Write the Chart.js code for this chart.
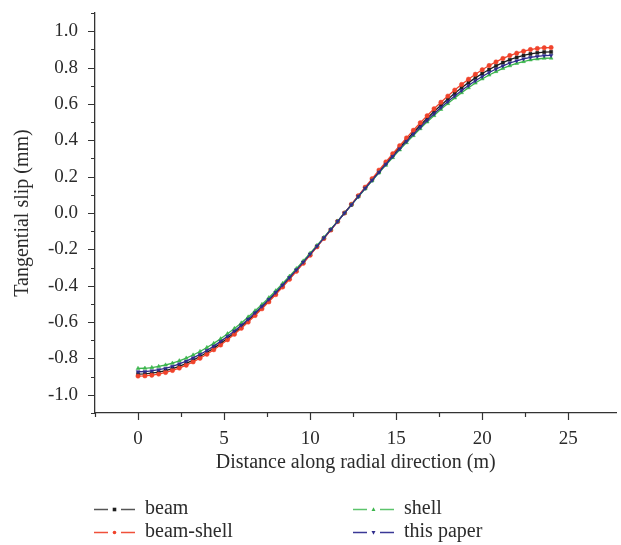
<!DOCTYPE html>
<html>
<head>
<meta charset="utf-8">
<script src="https://cdn.jsdelivr.net/npm/chart.js@4/dist/chart.umd.min.js"></script>
<style>
  body { margin: 0; background: #fff; }
  #wrap { width: 621px; height: 545px; }
</style>
</head>
<body>
<div id="wrap"><canvas id="slipChart" width="621" height="545"></canvas></div>
<script>
// Datos
const distance = [0,0.4,0.8,1.2,1.6,2,2.4,2.8,3.2,3.6,4,4.4,4.8,5.2,5.6,6,6.4,6.8,7.2,7.6,8,8.4,8.8,9.2,9.6,10,10.4,10.8,11.2,11.6,12,12.4,12.8,13.2,13.6,14,14.4,14.8,15.2,15.6,16,16.4,16.8,17.2,17.6,18,18.4,18.8,19.2,19.6,20,20.4,20.8,21.2,21.6,22,22.4,22.8,23.2,23.6,24];

const beam = [-0.886,-0.885,-0.881,-0.875,-0.867,-0.856,-0.843,-0.827,-0.809,-0.789,-0.767,-0.743,-0.717,-0.689,-0.658,-0.626,-0.593,-0.558,-0.521,-0.483,-0.443,-0.402,-0.360,-0.318,-0.274,-0.229,-0.184,-0.139,-0.093,-0.046,0,
  0.046,0.093,0.139,0.184,0.229,0.274,0.318,0.360,0.402,0.443,0.483,0.521,0.558,0.593,0.626,0.658,0.689,0.717,0.743,0.767,0.789,0.809,0.827,0.843,0.856,0.867,0.875,0.881,0.885,0.886];

const beamShell = [-0.897,-0.896,-0.892,-0.886,-0.877,-0.866,-0.853,-0.837,-0.819,-0.799,-0.777,-0.752,-0.726,-0.697,-0.667,-0.634,-0.600,-0.564,-0.527,-0.489,-0.449,-0.407,-0.365,-0.321,-0.277,-0.232,-0.186,-0.140,-0.094,-0.047,0,
  0.048,0.095,0.142,0.189,0.236,0.281,0.326,0.370,0.413,0.455,0.496,0.535,0.573,0.609,0.643,0.676,0.707,0.736,0.763,0.788,0.811,0.831,0.850,0.866,0.879,0.890,0.899,0.905,0.909,0.910];

const shell = [-0.855,-0.854,-0.850,-0.844,-0.836,-0.826,-0.813,-0.798,-0.781,-0.762,-0.740,-0.717,-0.692,-0.664,-0.635,-0.605,-0.572,-0.538,-0.503,-0.466,-0.428,-0.388,-0.348,-0.306,-0.264,-0.221,-0.178,-0.134,-0.089,-0.045,0,
  0.045,0.089,0.133,0.177,0.221,0.263,0.305,0.347,0.387,0.426,0.464,0.501,0.536,0.570,0.602,0.633,0.662,0.689,0.715,0.738,0.759,0.778,0.795,0.810,0.823,0.833,0.842,0.847,0.851,0.852];

const thisPaper = [-0.873,-0.872,-0.868,-0.862,-0.854,-0.843,-0.830,-0.815,-0.797,-0.778,-0.756,-0.732,-0.706,-0.678,-0.649,-0.617,-0.584,-0.549,-0.513,-0.475,-0.437,-0.396,-0.355,-0.313,-0.270,-0.226,-0.182,-0.137,-0.091,-0.046,0,
  0.045,0.091,0.136,0.180,0.224,0.268,0.311,0.353,0.394,0.434,0.472,0.510,0.546,0.580,0.613,0.644,0.674,0.701,0.727,0.751,0.773,0.792,0.809,0.825,0.837,0.848,0.856,0.862,0.866,0.867];

const seriesNames = ['beam', 'beam-shell', 'shell', 'this paper'];
const xMajorTicks = [0, 5, 10, 15, 20, 25];
const yMajorTicks = [-1.0, -0.8, -0.6, -0.4, -0.2, 0.0, 0.2, 0.4, 0.6, 0.8, 1.0];

const lineColors = ['#1e1e1e', '#f0432b', '#3bb54c', '#2f2c8c'];
const legendLineColors = ['#555555', '#f0503a', '#5cc46c', '#3a3896'];
const markerStyles = ['rect', 'circle', 'triangle', 'triangle'];
const markerRotation = [0, 0, 0, 180];

const serif = '"Liberation Serif", "DejaVu Serif", serif';
const inkColor = '#2b2b2b';

function isMultiple(v, step) {
    const k = Math.round(v / step);
    return Math.abs(v - k * step) < 1e-6;
}

// sin márgenes extra de las etiquetas
function noScalePadding(scale) {
    scale.paddingTop = 0;
    scale.paddingBottom = 0;
    scale.paddingLeft = 0;
    scale.paddingRight = 0;
}

// Marcas de los ejes (mayores y menores)
const tickMarks = {
    id: 'tickMarks',
    afterDraw(chart) {
        const ctx = chart.ctx;
        const xs = chart.scales.x;
        const ys = chart.scales.y;
        ctx.save();
        ctx.strokeStyle = '#333';
        ctx.lineWidth = 1.2;
        ctx.beginPath();
        xs.ticks.forEach(t => {
            if (!isMultiple(t.value, 2.5)) return;
            const major = xMajorTicks.some(m => Math.abs(m - t.value) < 1e-6);
            const px = Math.round(xs.getPixelForValue(t.value)) + 0.5;
            ctx.moveTo(px, xs.top);
            ctx.lineTo(px, xs.top + (major ? 7 : 4));
        });
        ys.ticks.forEach(t => {
            if (!isMultiple(t.value, 0.1)) return;
            const major = yMajorTicks.some(m => Math.abs(m - t.value) < 1e-6);
            const py = Math.round(ys.getPixelForValue(t.value)) + 0.5;
            ctx.moveTo(ys.right, py);
            ctx.lineTo(ys.right - (major ? 7 : 4), py);
        });
        ctx.stroke();
        ctx.restore();
    }
};

function drawMarker(ctx, style, rot, x, y, r) {
    ctx.beginPath();
    if (style === 'rect') {
        ctx.rect(x - r, y - r, 2 * r, 2 * r);
    } else if (style === 'circle') {
        ctx.arc(x, y, r, 0, Math.PI * 2);
    } else {
        const s = rot === 180 ? -1 : 1;
        ctx.moveTo(x, y - s * r * 1.2);
        ctx.lineTo(x + r * 1.1, y + s * r * 0.8);
        ctx.lineTo(x - r * 1.1, y + s * r * 0.8);
        ctx.closePath();
    }
    ctx.fill();
}

// Leyenda en dos columnas
const twoColLegend = {
    id: 'twoColLegend',
    afterDraw(chart) {
        const ctx = chart.ctx;
        const colX = [94, 353];
        const rowY = [509, 532];
        ctx.save();
        ctx.font = '20px ' + serif;
        ctx.textBaseline = 'middle';
        chart.data.datasets.forEach((ds, i) => {
            const x0 = colX[Math.floor(i / 2)];
            const y0 = rowY[i % 2];
            ctx.strokeStyle = legendLineColors[i];
            ctx.lineWidth = 1.4;
            ctx.beginPath();
            ctx.moveTo(x0, y0 + 0.5);
            ctx.lineTo(x0 + 14, y0 + 0.5);
            ctx.moveTo(x0 + 27, y0 + 0.5);
            ctx.lineTo(x0 + 41, y0 + 0.5);
            ctx.stroke();
            ctx.fillStyle = lineColors[i];
            drawMarker(ctx, markerStyles[i], markerRotation[i], x0 + 20.5, y0 + 0.5, 1.8);
            ctx.fillStyle = inkColor;
            ctx.fillText(ds.label, x0 + 51, y0);
        });
        ctx.restore();
    }
};

const seriesData = [beam, beamShell, shell, thisPaper];

const slipChart = new Chart(document.getElementById('slipChart').getContext('2d'), {
    type: 'line',
    data: {
        labels: distance,
        datasets: seriesNames.map((name, i) => ({
            label: name,
            data: distance.map((d, j) => ({ x: d, y: seriesData[i][j] })),
            order: seriesNames.length - i,   // "this paper" encima
            borderColor: lineColors[i],
            backgroundColor: lineColors[i],
            borderWidth: 1.3,
            pointStyle: markerStyles[i],
            rotation: markerRotation[i],
            pointRadius: 2.2,
            pointBorderWidth: 0.5,
            tension: 0,
            fill: false
        }))
    },
    options: {
        responsive: false,
        animation: false,
        layout: { padding: { left: 0, top: 13, right: 0, bottom: 70 } },
        plugins: {
            legend: { display: false },
            tooltip: { enabled: false }
        },
        scales: {
            x: {
                type: 'linear',
                min: -2.5,
                max: 27.8,
                afterFit(scale) { scale.height = 62; noScalePadding(scale); },
                border: { display: true, color: '#333', width: 1.3 },
                grid: { display: false },
                ticks: {
                    stepSize: 2.5,
                    autoSkip: false,
                    maxRotation: 0,
                    padding: 7,
                    color: inkColor,
                    font: { family: serif, size: 19 },
                    callback: v => xMajorTicks.some(m => Math.abs(m - v) < 1e-6) ? String(Math.round(v)) : ''
                },
                title: {
                    display: true,
                    text: 'Distance along radial direction (m)',
                    color: inkColor,
                    font: { family: serif, size: 20 },
                    padding: { top: 0, bottom: 0 }
                }
            },
            y: {
                min: -1.1,
                max: 1.1,
                afterFit(scale) { scale.width = 95; noScalePadding(scale); },
                border: { display: true, color: '#333', width: 1.3 },
                grid: { display: false },
                ticks: {
                    stepSize: 0.1,
                    autoSkip: false,
                    padding: 9,
                    color: inkColor,
                    font: { family: serif, size: 19 },
                    callback: v => {
                        const m = yMajorTicks.find(t => Math.abs(t - v) < 1e-6);
                        return m === undefined ? '' : (Math.abs(m) < 1e-9 ? '0.0' : m.toFixed(1));
                    }
                },
                title: {
                    display: true,
                    text: 'Tangential slip (mm)',
                    color: inkColor,
                    font: { family: serif, size: 20 },
                    padding: { top: 11, bottom: 0 }
                }
            }
        }
    },
    plugins: [tickMarks, twoColLegend]
});
</script>
</body>
</html>
